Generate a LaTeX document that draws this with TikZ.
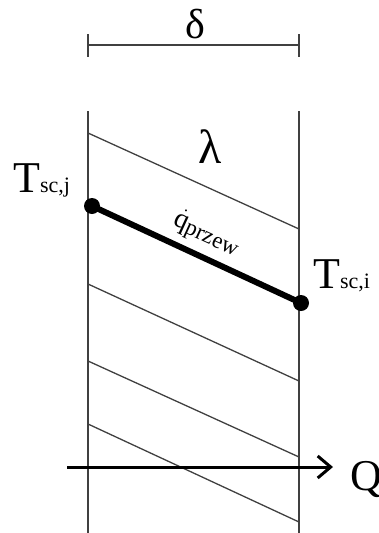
\documentclass[tikz,border=0pt]{standalone}
\usepackage{fontspec}
\setmainfont{Liberation Serif}
\usetikzlibrary{arrows.meta}
\definecolor{linegray}{HTML}{404040}
\begin{document}
\begin{tikzpicture}[x=1pt,y=-1pt,
  thinline/.style={draw=linegray,line width=1.3pt},
  wall/.style={draw=linegray,line width=1.5pt},
  heavy/.style={draw=black,line width=6pt},
  dotnode/.style={circle,fill=black,inner sep=0pt,minimum size=16pt},
  lbl/.style={inner sep=0pt,text=black},
  flow/.style={draw=black,line width=3pt,-{Straight Barb[length=13pt,width=22pt,line width=3pt]}}
]
\useasboundingbox (0,0) rectangle (379,533);
% dimension line
\coordinate (dl) at (88,45);
\coordinate (dr) at (299,45);
\coordinate (dlt) at (88,34);
\coordinate (dlb) at (88,57);
\coordinate (drt) at (299,34);
\coordinate (drb) at (299,57);
\draw[wall] (dl) -- (dr);
\draw[wall] (dlt) -- (dlb);
\draw[wall] (drt) -- (drb);
\node[lbl,anchor=base] (delta) at (195,38) {\fontsize{42}{42}\selectfont δ};
% walls
\coordinate (wlt) at (88,111);
\coordinate (wlb) at (88,533);
\coordinate (wrt) at (299,111);
\coordinate (wrb) at (299,533);
\draw[wall] (wlt) -- (wlb);
\draw[wall] (wrt) -- (wrb);
% hatch
\coordinate (h1a) at (88,133); \coordinate (h1b) at (299,229);
\coordinate (h2a) at (88,284); \coordinate (h2b) at (299,381);
\coordinate (h3a) at (88,361); \coordinate (h3b) at (299,457);
\coordinate (h4a) at (88,424); \coordinate (h4b) at (299,522);
\draw[thinline] (h1a) -- (h1b);
\draw[thinline] (h2a) -- (h2b);
\draw[thinline] (h3a) -- (h3b);
\draw[thinline] (h4a) -- (h4b);
\node[lbl,anchor=base] (lambda) at (210,163) {\fontsize{48}{48}\selectfont λ};
% temperature line
\node[dotnode] (pj) at (92,206) {};
\node[dotnode] (pi) at (301,303) {};
\draw[heavy] (pj.center) -- (pi.center);
\node[lbl,anchor=base west] (Tj) at (13,192) {\fontsize{44}{44}\selectfont T\fontsize{22}{22}\selectfont sc,j};
\node[lbl,anchor=base west] (Ti) at (313,288) {\fontsize{44}{44}\selectfont T\fontsize{22}{22}\selectfont sc,i};
\node[lbl,anchor=base,rotate=-24.7] (q) at (204,239) {\fontsize{28}{28}\selectfont $\dot{\mathrm{q}}$\fontsize{23}{23}\selectfont\raisebox{-3pt}{przew}};
% heat flow arrow
\coordinate (fa) at (67,467);
\coordinate (fb) at (333,467);
\draw[flow] (fa) -- (fb);
\node[lbl,anchor=base west] (Q) at (350,490) {\fontsize{44}{44}\selectfont Q};
\end{tikzpicture}
\end{document}
